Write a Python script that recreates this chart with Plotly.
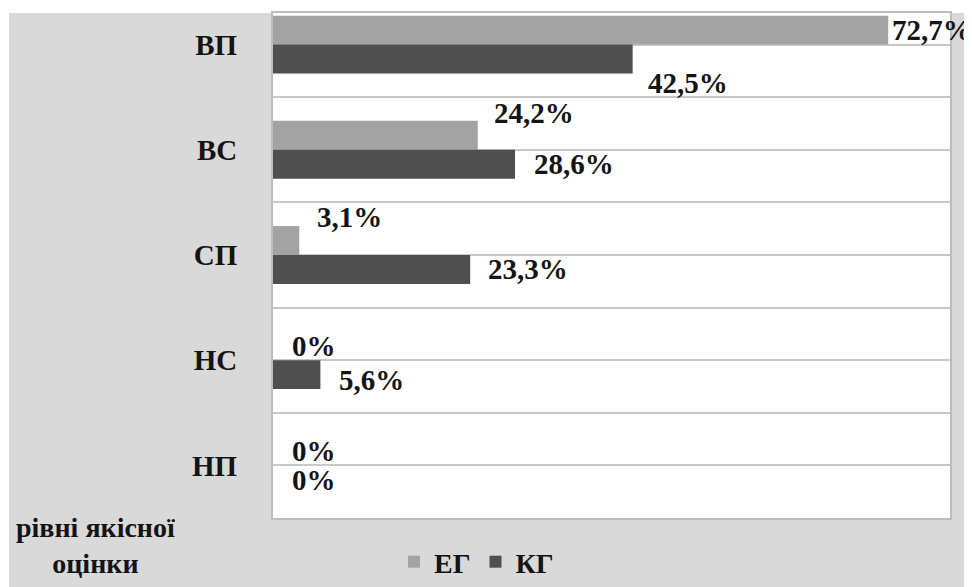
import plotly.graph_objects as go

categories = ["ВП", "ВС", "СП", "НС", "НП"]
eg_values = [72.7, 24.2, 3.1, 0.0, 0.0]
kg_values = [42.5, 28.6, 23.3, 5.6, 0.0]
eg_labels = ["72,7%", "24,2%", "3,1%", "0%", "0%"]
kg_labels = ["42,5%", "28,6%", "23,3%", "5,6%", "0%"]
series_names = ["ЕГ", "КГ"]
axis_title = "рівні якісної<br>оцінки"

# label placement offsets (pixels), style only
eg_offsets = [(2, 0), (14, 22), (16, 23), (17, 0), (17, 0)]
kg_offsets = [(13, -24), (17, 0), (16, 0), (17, -5), (17, 0)]

# page has an 8px body margin; figure sized to fill the rest of the 972x587 window
OFF = 8
W, H = 972 - OFF, 587 - OFF
FONT = "Liberation Serif"
BAR_HALF = 14.5  # pixel half-thickness of each bar in a group


def px(xp):
    return (xp - OFF) / W


def py(yp):
    return 1 - (yp - OFF) / H


pos = list(range(len(categories)))

fig = go.Figure()
fig.add_trace(go.Bar(
    y=pos, x=eg_values, orientation="h", name=series_names[0],
    marker=dict(color="#a3a3a3", line=dict(width=0)),
))
fig.add_trace(go.Bar(
    y=pos, x=kg_values, orientation="h", name=series_names[1],
    marker=dict(color="#4f4f4f", line=dict(width=0)),
))

annotations = []
for i, p in enumerate(pos):
    dx, dy = eg_offsets[i]
    annotations.append(dict(
        x=eg_values[i], y=p, xref="x", yref="y", text=eg_labels[i],
        showarrow=False, xanchor="left", yanchor="middle",
        xshift=dx, yshift=BAR_HALF + dy,
        font=dict(family=FONT, size=29, color="#141414", weight="bold"),
    ))
    dx, dy = kg_offsets[i]
    annotations.append(dict(
        x=kg_values[i], y=p, xref="x", yref="y", text=kg_labels[i],
        showarrow=False, xanchor="left", yanchor="middle",
        xshift=dx, yshift=-BAR_HALF + dy,
        font=dict(family=FONT, size=29, color="#141414", weight="bold"),
    ))

annotations.append(dict(
    x=px(95), y=py(545), xref="paper", yref="paper", text=axis_title,
    showarrow=False, xanchor="center", yanchor="middle", align="center",
    font=dict(family=FONT, size=28, color="#141414", weight="bold"),
))

fig.update_layout(
    width=W, height=H,
    margin=dict(l=0, r=0, t=0, b=0),
    paper_bgcolor="#d9d9d9",
    plot_bgcolor="#ffffff",
    barmode="group",
    bargap=0.45,
    bargroupgap=0,
    showlegend=True,
    legend=dict(
        orientation="h", x=px(394), y=0, xanchor="left", yanchor="bottom",
        font=dict(family=FONT, size=28, color="#141414", weight="bold"),
        bgcolor="rgba(0,0,0,0)", itemwidth=30, traceorder="normal",
        tracegroupgap=0,
    ),
    annotations=annotations,
    shapes=[
        dict(type="rect", xref="paper", yref="paper", x0=0, x1=1, y0=py(13), y1=1,
             fillcolor="#ffffff", line=dict(width=0), layer="below"),
        dict(type="rect", xref="paper", yref="paper", x0=0, x1=px(9), y0=0, y1=1,
             fillcolor="#ffffff", line=dict(width=0), layer="below"),
    ],
    xaxis=dict(
        domain=[px(273), px(950)], range=[0, 80],
        showgrid=False, zeroline=False, showticklabels=False, ticks="",
        showline=True, linecolor="#bdbdbd", linewidth=2, mirror=True,
    ),
    yaxis=dict(
        domain=[py(518), py(13)], range=[4.5, -0.3],
        tickmode="array", tickvals=pos, ticktext=categories,
        ticks="outside", ticklen=28, tickcolor="rgba(0,0,0,0)",
        tickfont=dict(family=FONT, size=29, color="#141414", weight="bold"),
        showgrid=True, gridcolor="#c8c8c8", gridwidth=2,
        minor=dict(tickmode="array", tickvals=[p + 0.5 for p in pos],
                   showgrid=True, gridcolor="#c8c8c8", gridwidth=2, ticks=""),
        zeroline=False,
        showline=True, linecolor="#bdbdbd", linewidth=2, mirror=True,
    ),
)

fig.write_html("out.html")
